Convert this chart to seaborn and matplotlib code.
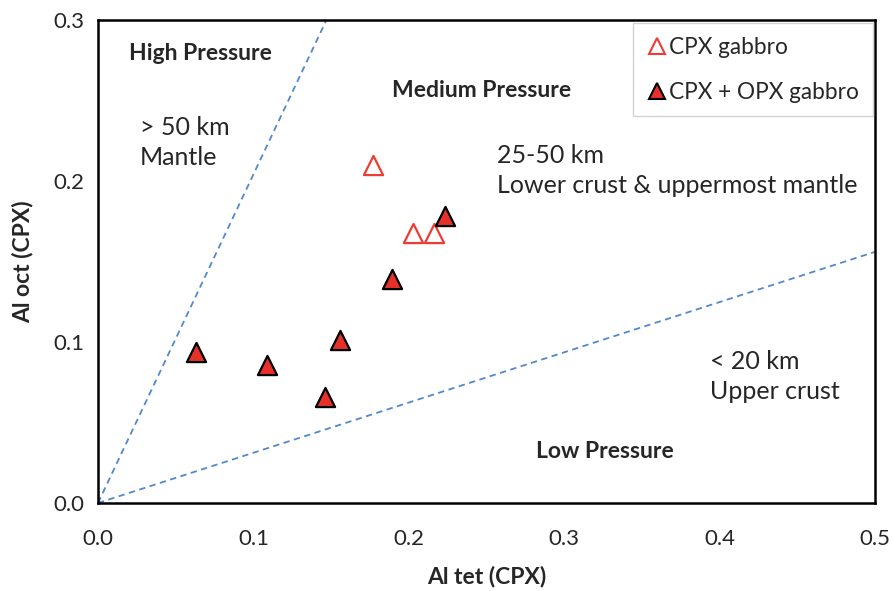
import matplotlib
matplotlib.use("Agg")
import matplotlib.pyplot as plt
import seaborn as sns
import pandas as pd
from matplotlib.lines import Line2D

# Data
cpx_al_tet = [0.177, 0.203, 0.216]
cpx_al_oct = [0.210, 0.168, 0.168]
opx_al_tet = [0.063, 0.109, 0.146, 0.156, 0.189, 0.223]
opx_al_oct = [0.094, 0.086, 0.066, 0.101, 0.139, 0.178]

# Pressure boundary lines (Al tet, Al oct)
high_bound_x = [0.0, 0.147]
high_bound_y = [0.0, 0.300]
low_bound_x = [0.0, 0.5]
low_bound_y = [0.0, 0.156]

x_ticks = [0.0, 0.1, 0.2, 0.3, 0.4, 0.5]
y_ticks = [0.0, 0.1, 0.2, 0.3]

sns.set_style("white")
plt.rcParams['font.family'] = ['Lato', 'DejaVu Sans']

fig = plt.figure(figsize=(8.93, 5.91), dpi=100)
ax = fig.add_axes([98/893, 1-503/591, (875-98)/893, (503-20)/591])

df_cpx = pd.DataFrame({"x": cpx_al_tet, "y": cpx_al_oct})
df_opx = pd.DataFrame({"x": opx_al_tet, "y": opx_al_oct})

ax.plot(high_bound_x, high_bound_y, ls=(0, (3.5, 2.5)), color="#5288cc", lw=1.3, zorder=1)
ax.plot(low_bound_x, low_bound_y, ls=(0, (3.5, 2.5)), color="#5288cc", lw=1.3, zorder=1)

sns.scatterplot(data=df_cpx, x="x", y="y", ax=ax, marker="^", s=190,
                facecolor="white", edgecolor="#ee3b33", linewidth=1.6, zorder=3)
sns.scatterplot(data=df_opx, x="x", y="y", ax=ax, marker="^", s=190,
                facecolor="#e8302a", edgecolor="black", linewidth=1.6, zorder=4)

ax.set_xlim(0, 0.5)
ax.set_ylim(0, 0.3)
ax.set_xticks(x_ticks)
ax.set_yticks(y_ticks)
ax.set_xticklabels([f"{v:.1f}" for v in x_ticks], fontsize=16)
ax.set_yticklabels([f"{v:.1f}" for v in y_ticks], fontsize=16)
ax.tick_params(axis="both", direction="out", length=5, width=1, color="#666666")
ax.tick_params(axis="x", pad=14)
ax.tick_params(axis="y", pad=5)
for s in ax.spines.values():
    s.set_color("black")
    s.set_linewidth(1.8)

ax.set_xlabel("Al tet (CPX)", fontsize=16.5, fontweight="bold", labelpad=12)
ax.set_ylabel("Al oct (CPX)", fontsize=16.5, fontweight="bold", labelpad=14)

fs = 18
bfs = 16.5
ax.text(0.066, 0.2795, "High Pressure", fontsize=bfs, fontweight="bold", ha="center", va="center")
ax.text(0.027, 0.2335, "> 50 km", fontsize=fs, ha="left", va="center")
ax.text(0.027, 0.2145, "Mantle", fontsize=fs, ha="left", va="center")
ax.text(0.247, 0.2565, "Medium Pressure", fontsize=bfs, fontweight="bold", ha="center", va="center")
ax.text(0.257, 0.216, "25-50 km", fontsize=fs, ha="left", va="center")
ax.text(0.257, 0.197, "Lower crust & uppermost mantle", fontsize=fs, ha="left", va="center")
ax.text(0.394, 0.088, "< 20 km", fontsize=fs, ha="left", va="center")
ax.text(0.394, 0.069, "Upper crust", fontsize=fs, ha="left", va="center")
ax.text(0.326, 0.032, "Low Pressure", fontsize=bfs, fontweight="bold", ha="center", va="center")

handles = [
    Line2D([], [], marker="^", ls="", markersize=11, markerfacecolor="white",
           markeredgecolor="#ee3b33", markeredgewidth=1.5, label="CPX gabbro"),
    Line2D([], [], marker="^", ls="", markersize=11, markerfacecolor="#e8302a",
           markeredgecolor="black", markeredgewidth=1.5, label="CPX + OPX gabbro"),
]
leg = ax.legend(handles=handles, loc="upper right", bbox_to_anchor=(0.997, 0.993),
                fontsize=16.3, frameon=True, fancybox=False, handletextpad=0.1,
                handlelength=0.9, labelspacing=1.05, borderpad=0.6, borderaxespad=0)
leg.get_frame().set_edgecolor("#c8c8c8")
leg.get_frame().set_linewidth(1)

fig.savefig("out.png", dpi=100)
